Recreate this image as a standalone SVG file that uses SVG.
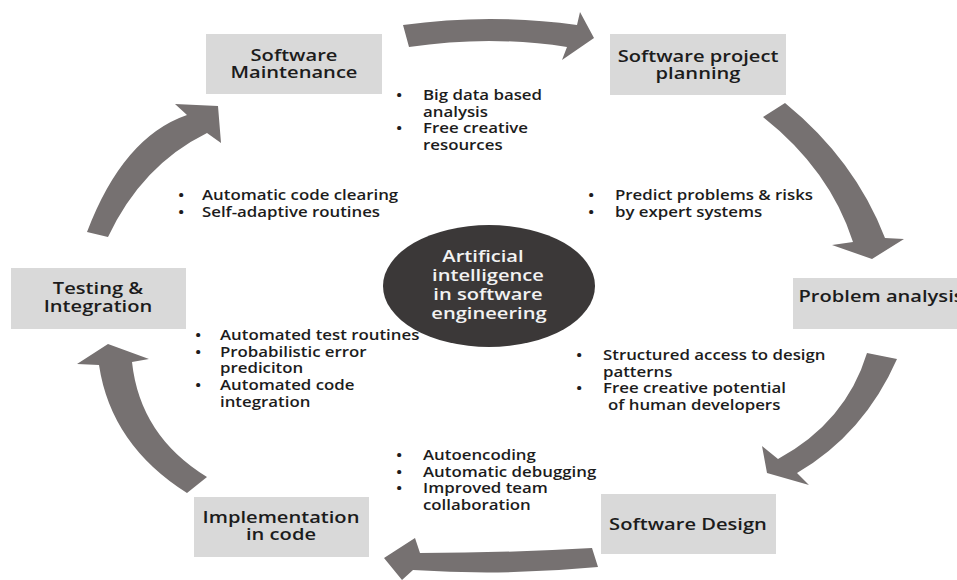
<svg xmlns="http://www.w3.org/2000/svg" width="957" height="580" viewBox="0 0 957 580">
  <style>
    .box { fill: #d9d9d9; }
    .arrow { fill: #767171; }
    .lbl { font-family: "Open Sans", "Liberation Sans", sans-serif; font-size: 16.5px; font-weight: 600; fill: #1c1c1c; }
    .pt { font-family: "Open Sans", "Liberation Sans", sans-serif; font-size: 13.8px; font-weight: 600; fill: #1c1c1c; }
    .hub { font-family: "Open Sans", "Liberation Sans", sans-serif; font-size: 16.5px; font-weight: 600; fill: #f2f2f2; }
  </style>
  <rect width="957" height="580" fill="#ffffff"/>

  <!-- cycle arrows -->
  <g id="connectors">
    <path class="arrow" d="M403,25 Q490,13 577,25 L580,12 L594,38 L562,60 L567,47 Q490,35 409,47 Z"/>
    <path class="arrow" d="M785,103 Q855,160 885,238 L904,239 L872,259 L832,245 L853,242 Q830,170 763,117 Z"/>
    <path class="arrow" d="M897,359 Q864,434 797,473 L809,485 L767,473 L762,446 L778,459 Q846,422 867,353 Z"/>
    <path class="arrow" d="M592,548 Q505,553 420,553 L415,538 L384,558 L402,580 L413,570 Q505,576 598,567 Z"/>
    <path class="arrow" d="M207,477 Q140,436 132,362 L149,359 L108,344 L77,364 L99,365 Q111,445 187,493 Z"/>
    <path class="arrow" d="M87,232 Q123,137 187,115 L175,104 L218,106 L221,143 L207,133 Q142,165 108,237 Z"/>
  </g>

  <!-- centre -->
  <g id="hub">
    <ellipse cx="489" cy="286" rx="106" ry="61" fill="#3b3838"/>
    <g class="hub" text-anchor="middle">
      <text transform="translate(483 0) scale(1.22 1)" y="262">Artificial</text>
      <text transform="translate(488 0) scale(1.22 1)" y="281">intelligence</text>
      <text transform="translate(488 0) scale(1.22 1)" y="300">in software</text>
      <text transform="translate(489 0) scale(1.22 1)" y="319">engineering</text>
    </g>
  </g>

  <!-- phases -->
  <g id="maintenance">
    <rect class="box" x="206" y="34" width="176" height="60"/>
    <g class="lbl" text-anchor="middle">
      <text transform="translate(294 0) scale(1.22 1)" y="61">Software</text>
      <text transform="translate(294 0) scale(1.22 1)" y="78">Maintenance</text>
    </g>
  </g>

  <g id="planning">
    <rect class="box" x="610" y="34" width="176" height="61"/>
    <g class="lbl" text-anchor="middle">
      <text transform="translate(698 0) scale(1.22 1)" y="62">Software project</text>
      <text transform="translate(698 0) scale(1.22 1)" y="79">planning</text>
    </g>
  </g>

  <g id="analysis">
    <rect class="box" x="793" y="278" width="176" height="51"/>
    <g class="lbl" text-anchor="middle">
      <text transform="translate(881 0) scale(1.22 1)" y="302">Problem analysis</text>
    </g>
  </g>

  <g id="design">
    <rect class="box" x="601" y="494" width="175" height="60"/>
    <g class="lbl" text-anchor="middle">
      <text transform="translate(688 0) scale(1.22 1)" y="530">Software Design</text>
    </g>
  </g>

  <g id="implementation">
    <rect class="box" x="194" y="497" width="175" height="60"/>
    <g class="lbl" text-anchor="middle">
      <text transform="translate(281 0) scale(1.22 1)" y="523">Implementation</text>
      <text transform="translate(281 0) scale(1.22 1)" y="540">in code</text>
    </g>
  </g>

  <g id="testing">
    <rect class="box" x="11" y="268" width="175" height="61"/>
    <g class="lbl" text-anchor="middle">
      <text transform="translate(98 0) scale(1.22 1)" y="294">Testing &amp;</text>
      <text transform="translate(98 0) scale(1.22 1)" y="312">Integration</text>
    </g>
  </g>

  <!-- bullet notes -->
  <g id="notes-maintenance-planning" class="pt">
    <text transform="translate(396 0) scale(1.22 1)" y="100">•</text>
    <text transform="translate(423 0) scale(1.22 1)" y="100">Big data based</text>
    <text transform="translate(423 0) scale(1.22 1)" y="117">analysis</text>
    <text transform="translate(396 0) scale(1.22 1)" y="133">•</text>
    <text transform="translate(423 0) scale(1.22 1)" y="133">Free creative</text>
    <text transform="translate(423 0) scale(1.22 1)" y="150">resources</text>
  </g>

  <g id="notes-testing-maintenance" class="pt">
    <text transform="translate(178 0) scale(1.22 1)" y="200">•</text>
    <text transform="translate(202 0) scale(1.22 1)" y="200">Automatic code clearing</text>
    <text transform="translate(178 0) scale(1.22 1)" y="217">•</text>
    <text transform="translate(202 0) scale(1.22 1)" y="217">Self-adaptive routines</text>
  </g>

  <g id="notes-planning-analysis" class="pt">
    <text transform="translate(588 0) scale(1.22 1)" y="200">•</text>
    <text transform="translate(615 0) scale(1.22 1)" y="200">Predict problems &amp; risks</text>
    <text transform="translate(588 0) scale(1.22 1)" y="217">•</text>
    <text transform="translate(615 0) scale(1.22 1)" y="217">by expert systems</text>
  </g>

  <g id="notes-implementation-testing" class="pt">
    <text transform="translate(195 0) scale(1.22 1)" y="340">•</text>
    <text transform="translate(220 0) scale(1.22 1)" y="340">Automated test routines</text>
    <text transform="translate(195 0) scale(1.22 1)" y="357">•</text>
    <text transform="translate(220 0) scale(1.22 1)" y="357">Probabilistic error</text>
    <text transform="translate(220 0) scale(1.22 1)" y="373">prediciton</text>
    <text transform="translate(195 0) scale(1.22 1)" y="390">•</text>
    <text transform="translate(220 0) scale(1.22 1)" y="390">Automated code</text>
    <text transform="translate(220 0) scale(1.22 1)" y="407">integration</text>
  </g>

  <g id="notes-analysis-design" class="pt">
    <text transform="translate(576 0) scale(1.22 1)" y="360">•</text>
    <text transform="translate(603 0) scale(1.22 1)" y="360">Structured access to design</text>
    <text transform="translate(603 0) scale(1.22 1)" y="377">patterns</text>
    <text transform="translate(576 0) scale(1.22 1)" y="393">•</text>
    <text transform="translate(603 0) scale(1.22 1)" y="393">Free creative potential</text>
    <text transform="translate(608 0) scale(1.22 1)" y="410">of human developers</text>
  </g>

  <g id="notes-design-implementation" class="pt">
    <text transform="translate(396 0) scale(1.22 1)" y="460">•</text>
    <text transform="translate(423 0) scale(1.22 1)" y="460">Autoencoding</text>
    <text transform="translate(396 0) scale(1.22 1)" y="477">•</text>
    <text transform="translate(423 0) scale(1.22 1)" y="477">Automatic debugging</text>
    <text transform="translate(396 0) scale(1.22 1)" y="493">•</text>
    <text transform="translate(423 0) scale(1.22 1)" y="493">Improved team</text>
    <text transform="translate(423 0) scale(1.22 1)" y="510">collaboration</text>
  </g>
</svg>
